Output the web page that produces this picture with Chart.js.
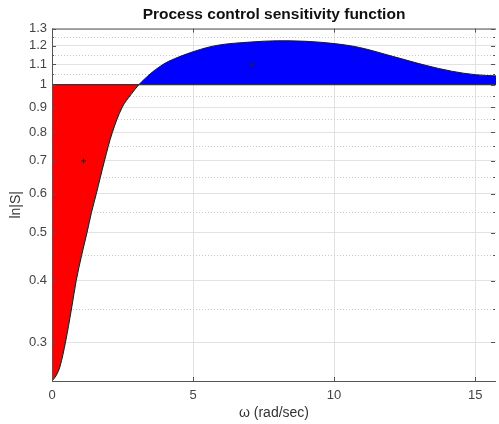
<!DOCTYPE html>
<html>
<head>
<meta charset="utf-8">
<script src="https://cdn.jsdelivr.net/npm/chart.js@4/dist/chart.umd.min.js"></script>
<style>
    html, body { margin: 0; padding: 0; background: #fff; overflow: hidden; }
    #wrap { position: relative; width: 501px; height: 424px; }
</style>
</head>
<body>
<div id="wrap"><canvas id="sens_chart"></canvas></div>
<script>
// |S(jw)|
const omega = [0, 0.14, 0.28, 0.48, 0.69, 0.86, 1.05, 1.24, 1.4, 1.57, 1.86, 2.14, 2.49, 2.8, 3.08,
    3.26, 3.55, 3.79, 4.14, 5.05, 5.89, 7.06, 7.99, 9.0, 10.0, 10.9, 12.07, 13.24, 14.17, 15.0, 15.74];
const magS = [0.25, 0.256, 0.267, 0.30, 0.35, 0.40, 0.45, 0.50, 0.55, 0.60, 0.70, 0.80, 0.90, 0.955, 1.0,
    1.024, 1.060, 1.085, 1.116, 1.169, 1.203, 1.221, 1.228, 1.225, 1.212, 1.19, 1.142, 1.095, 1.065, 1.048, 1.042];

// the two small markers
const markX = [1.12, 7.1];
const markY = [0.7, 1.1];

const xTicks = [0, 5, 10, 15];
const yTicks = [0.3, 0.4, 0.5, 0.6, 0.7, 0.8, 0.9, 1, 1.1, 1.2, 1.3];
const yMinor = [0.35, 0.45, 0.55, 0.65, 0.75, 0.85, 0.95, 1.05, 1.15, 1.25];
const xMin = 0, xMax = 15.74, yMin = 0.25, yMax = 1.3;

const FONT = 'Liberation Sans, Arial, sans-serif';

// dotted minor grid, box and inward ticks like the original figure
const matlabAxes = {
    id: 'matlabAxes',
    beforeDatasetsDraw(chart) {
        let ctx = chart.ctx;
        let a = chart.chartArea;
        let ys = chart.scales.y;
        ctx.save();
        ctx.strokeStyle = '#c8c8c8';
        ctx.lineWidth = 1;
        ctx.setLineDash([1, 2]);
        for (let v of yMinor) {
            let py = Math.round(ys.getPixelForValue(v)) + 0.5;
            ctx.beginPath();
            ctx.moveTo(a.left, py);
            ctx.lineTo(a.right, py);
            ctx.stroke();
        }
        ctx.restore();
    },
    afterDraw(chart) {
        let ctx = chart.ctx;
        let a = chart.chartArea;
        let xs = chart.scales.x;
        let ys = chart.scales.y;
        ctx.save();
        ctx.strokeStyle = '#555';
        ctx.lineWidth = 1;
        ctx.beginPath();
        ctx.moveTo(a.left, a.top + 0.5);
        ctx.lineTo(a.right, a.top + 0.5);
        ctx.moveTo(a.left + 0.5, a.top);
        ctx.lineTo(a.left + 0.5, a.bottom);
        ctx.moveTo(a.left, a.bottom + 0.5);
        ctx.lineTo(a.right, a.bottom + 0.5);
        for (let v of xTicks) {
            let px = Math.round(xs.getPixelForValue(v)) + 0.5;
            ctx.moveTo(px, a.bottom);
            ctx.lineTo(px, a.bottom - 4);
            ctx.moveTo(px, a.top);
            ctx.lineTo(px, a.top + 4);
        }
        for (let v of yTicks.concat(yMinor)) {
            let py = Math.round(ys.getPixelForValue(v)) + 0.5;
            let len = yTicks.includes(v) ? 4 : 2;
            ctx.moveTo(a.left, py);
            ctx.lineTo(a.left + len, py);
            ctx.moveTo(a.right - 1, py);
            ctx.lineTo(a.right - 1 - len, py);
        }
        ctx.stroke();
        ctx.restore();
    }
};

let ctx = document.getElementById('sens_chart').getContext('2d');
let config = {
    type: 'scatter',
    data: {
        datasets: [
            {
                label: '|S|',
                data: omega.map((w, i) => ({ x: w, y: magS[i] })),
                showLine: true,
                borderColor: '#1a1a1a',
                borderWidth: 1,
                pointRadius: 0,
                tension: 0.35,
                fill: { target: { value: 1 }, above: '#0000ff', below: '#ff0000' },
                order: 2
            },
            {
                label: 'unity',
                data: [{ x: xMin, y: 1 }, { x: xMax, y: 1 }],
                showLine: true,
                borderColor: '#333',
                borderWidth: 1.2,
                pointRadius: 0,
                fill: false,
                order: 1
            },
            {
                label: 'marks',
                data: markX.map((w, i) => ({ x: w, y: markY[i] })),
                showLine: false,
                pointStyle: 'cross',
                pointRadius: 2.5,
                borderColor: '#222',
                borderWidth: 1,
                order: 0
            }
        ]
    },
    options: {
        responsive: true,
        maintainAspectRatio: false,
        animation: false,
        events: [],
        layout: { padding: 0 },
        scales: {
            x: {
                type: 'linear',
                min: xMin,
                max: xMax,
                afterBuildTicks: (s) => { s.ticks = xTicks.map(v => ({ value: v })); },
                afterFit: (s) => { s.height = 43; },
                ticks: {
                    padding: 7,
                    color: '#444',
                    font: { family: FONT, size: 13 },
                    maxRotation: 0,
                    callback: (v) => String(v)
                },
                grid: { color: '#e2e2e2', drawTicks: false },
                border: { display: false },
                title: {
                    display: true,
                    text: 'ω (rad/sec)',
                    color: '#333',
                    padding: { top: 0, bottom: 2 },
                    font: { family: FONT, size: 14 }
                }
            },
            y: {
                type: 'logarithmic',
                min: yMin,
                max: yMax,
                afterBuildTicks: (s) => { s.ticks = yTicks.map(v => ({ value: v })); },
                afterFit: (s) => { s.width = 52; },
                ticks: {
                    padding: 5,
                    color: '#444',
                    font: { family: FONT, size: 13 },
                    callback: (v) => String(v)
                },
                grid: { color: '#e2e2e2', drawTicks: false },
                border: { display: false },
                title: {
                    display: true,
                    text: 'ln|S|',
                    color: '#333',
                    padding: { top: 8, bottom: 0 },
                    font: { family: FONT, size: 14 }
                }
            }
        },
        plugins: {
            legend: { display: false },
            tooltip: { enabled: false },
            title: {
                display: true,
                fullSize: false,
                text: 'Process control sensitivity function',
                color: '#111',
                padding: { top: 5, bottom: 5 },
                font: { family: FONT, size: 15.5, weight: 'bold' }
            }
        }
    },
    plugins: [matlabAxes]
};

let sensChart = new Chart(ctx, config);
</script>
</body>
</html>
